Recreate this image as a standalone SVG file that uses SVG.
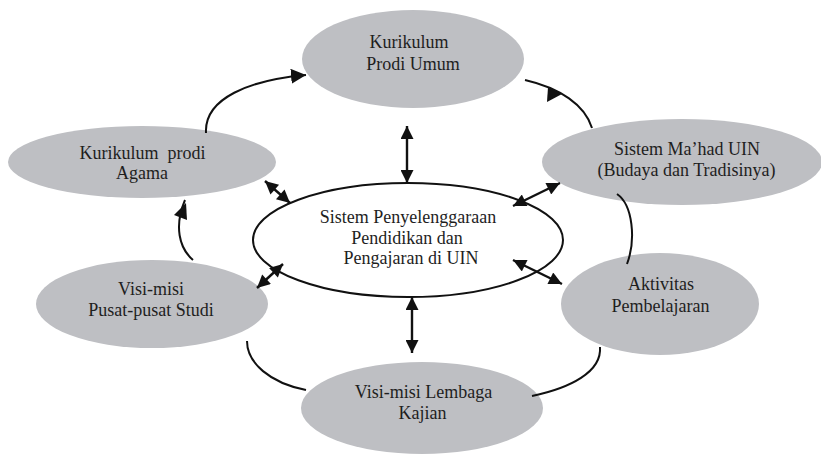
<svg xmlns="http://www.w3.org/2000/svg" width="821" height="455" viewBox="0 0 821 455">
<style>
.n{fill:#bebfc3;stroke:none}
.c{fill:#fff;stroke:#111;stroke-width:2}
.t{font-family:"Liberation Serif","Times New Roman",serif;font-size:18px;fill:#1e1e1e;text-anchor:middle}
.l{fill:none;stroke:#111;stroke-width:2}
.d{fill:none;stroke:#111;stroke-width:2.4;marker-start:url(#ah);marker-end:url(#ah)}
.h{fill:#111}
</style>
<defs>
<marker id="ah" viewBox="0 0 10 10" refX="10" refY="5" markerUnits="userSpaceOnUse" markerWidth="15" markerHeight="13" orient="auto-start-reverse">
<path d="M0,0 L10,5 L0,10 z" fill="#111"/>
</marker>
<marker id="ae" viewBox="0 0 10 10" refX="10" refY="5" markerUnits="userSpaceOnUse" markerWidth="15" markerHeight="15" orient="auto">
<path d="M0,0 L10,5 L0,10 z" fill="#111"/>
</marker>
</defs>
<rect width="821" height="455" fill="#fff"/>
<g id="n-umum">
<ellipse class="n" cx="413" cy="59" rx="111" ry="49"/>
<text class="t" x="409" y="48">Kurikulum</text>
<text class="t" x="413" y="70">Prodi Umum</text>
</g>
<g id="n-agama">
<ellipse class="n" cx="142" cy="162" rx="134" ry="36"/>
<text class="t" x="142.5" y="159" xml:space="preserve">Kurikulum  prodi</text>
<text class="t" x="142" y="179">Agama</text>
</g>
<g id="n-mahad">
<ellipse class="n" cx="682" cy="162" rx="140" ry="43"/>
<text class="t" x="687" y="155">Sistem Ma’had UIN</text>
<text class="t" x="686.5" y="176">(Budaya dan Tradisinya)</text>
</g>
<g id="n-aktivitas">
<ellipse class="n" cx="660" cy="304" rx="99" ry="51"/>
<text class="t" x="661" y="290">Aktivitas</text>
<text class="t" x="660.5" y="312">Pembelajaran</text>
</g>
<g id="n-pusat">
<ellipse class="n" cx="152" cy="304" rx="116" ry="44"/>
<text class="t" x="151" y="295">Visi-misi</text>
<text class="t" x="151" y="316">Pusat-pusat Studi</text>
</g>
<g id="n-lembaga">
<ellipse class="n" cx="422" cy="408" rx="121" ry="46"/>
<text class="t" x="423.5" y="398">Visi-misi Lembaga</text>
<text class="t" x="422.5" y="419">Kajian</text>
</g>
<g id="n-sistem">
<ellipse class="c" cx="408" cy="240" rx="155" ry="57"/>
<text class="t" x="408" y="223">Sistem Penyelenggaraan</text>
<text class="t" x="407" y="244">Pendidikan dan</text>
<text class="t" x="411" y="264">Pengajaran di UIN</text>
</g>
<g id="connectors">
<path class="l" d="M206,133 C204,98 250,80 306,75" marker-end="url(#ae)"/>
<path class="l" d="M525,80 C560,88 585,105 592,128"/>
<polygon class="h" points="548,87 562,94 547,102"/>
<path class="l" d="M617,194 C633,205 636,240 627,264"/>
<path class="l" d="M600,347 C602,372 570,388 532,396"/>
<path class="l" d="M306,390 C270,383 247,363 247,341"/>
<path class="l" d="M193,260 C179,248 174,226 185,200"/>
<polygon class="h" points="186,203 187,220 174,215"/>
<line class="d" x1="407" y1="126" x2="407" y2="183"/>
<line class="d" x1="265" y1="181" x2="290" y2="203"/>
<line class="d" x1="560" y1="183" x2="513" y2="206"/>
<line class="d" x1="513" y1="260" x2="562" y2="284"/>
<line class="d" x1="283" y1="264" x2="257" y2="288"/>
<line class="d" x1="412" y1="297" x2="412" y2="353"/>
</g>
</svg>
